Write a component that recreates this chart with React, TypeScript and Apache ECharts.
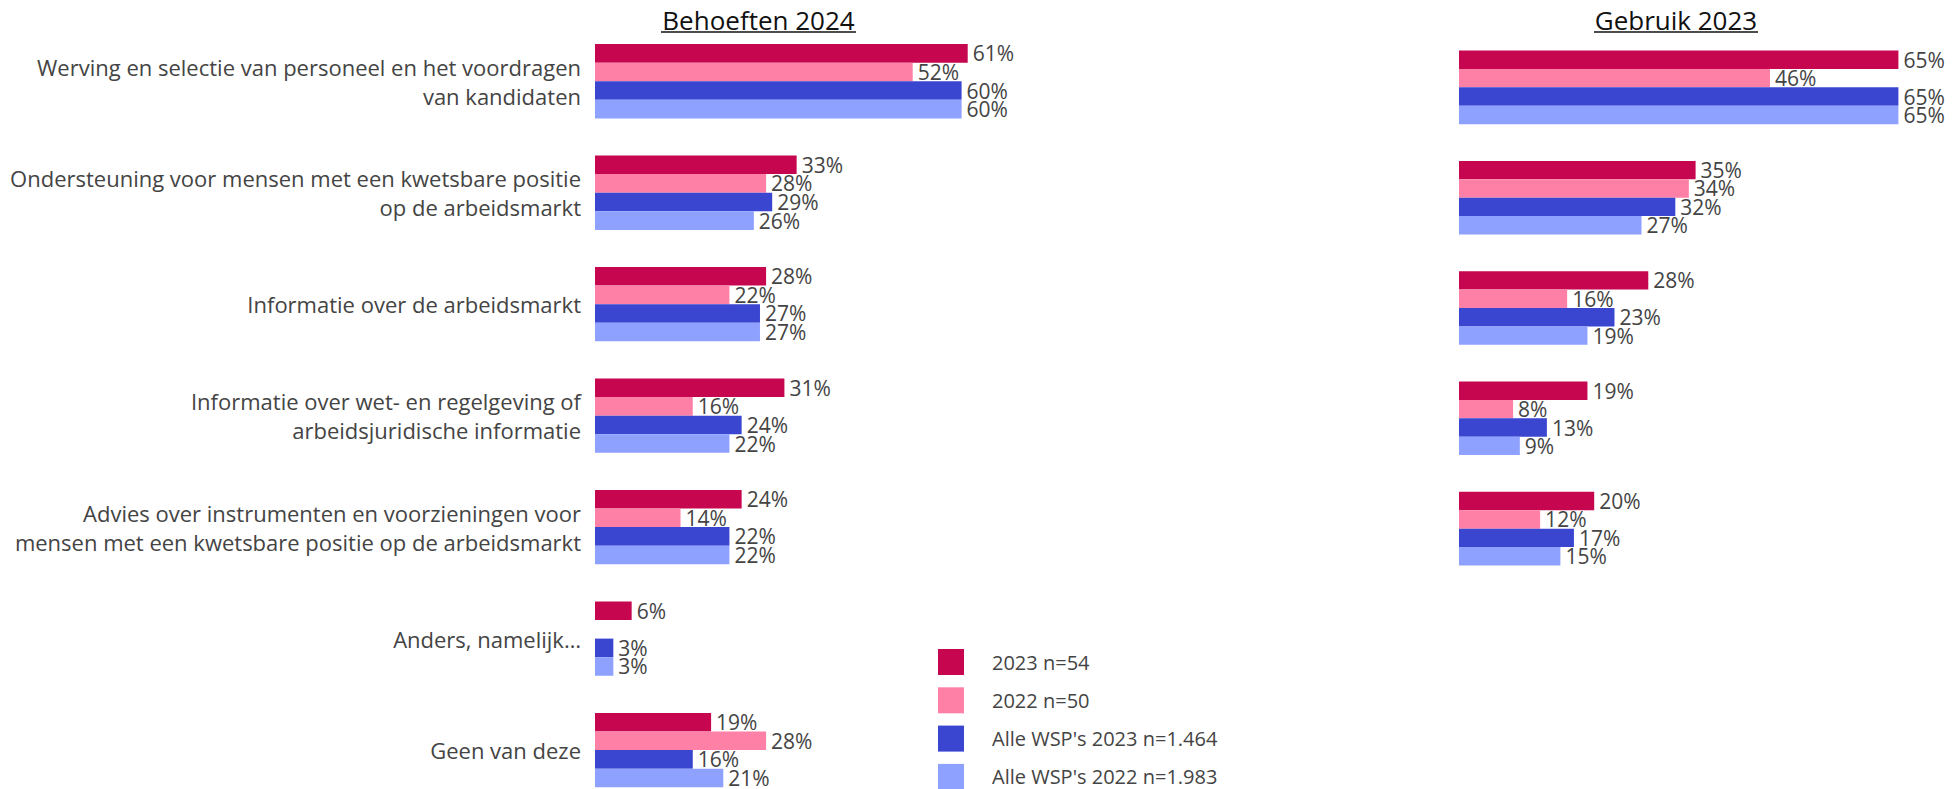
import React, { useEffect, useRef } from "react";
import * as echarts from "echarts";

const categoriesNeeds = [
  "Werving en selectie van personeel en het voordragen\nvan kandidaten",
  "Ondersteuning voor mensen met een kwetsbare positie\nop de arbeidsmarkt",
  "Informatie over de arbeidsmarkt",
  "Informatie over wet- en regelgeving of\narbeidsjuridische informatie",
  "Advies over instrumenten en voorzieningen voor\nmensen met een kwetsbare positie op de arbeidsmarkt",
  "Anders, namelijk…",
  "Geen van deze",
];
const categoriesUse = categoriesNeeds.slice(0, 5);

const seriesNames = ["2023 n=54", "2022 n=50", "Alle WSP's 2023 n=1.464", "Alle WSP's 2022 n=1.983"];
const seriesColors = ["#C6064E", "#FF80A6", "#3A45D0", "#8FA1FF"];

const needs2023 = [61, 33, 28, 31, 24, 6, 19];
const needs2022 = [52, 28, 22, 16, 14, 0, 28];
const needsAll2023 = [60, 29, 27, 24, 22, 3, 16];
const needsAll2022 = [60, 26, 27, 22, 22, 3, 21];

const use2023 = [65, 35, 28, 19, 20];
const use2022 = [46, 34, 16, 8, 12];
const useAll2023 = [65, 32, 23, 13, 17];
const useAll2022 = [65, 27, 19, 9, 15];

const titles = ["Behoeften 2024", "Gebruik 2023"];

const FONT = "'Open Sans', 'Noto Sans', sans-serif";

export default function App() {
  const ref = useRef<HTMLDivElement>(null);

  useEffect(() => {
    if (!ref.current) return;
    const chart = echarts.init(ref.current, null, { renderer: "svg" });

    const needsData = [needs2023, needs2022, needsAll2023, needsAll2022];
    const useData = [use2023, use2022, useAll2023, useAll2022];

    const mkSeries = (vals: number[], i: number, axisIdx: number) => ({
      type: "bar",
      name: seriesNames[i],
      xAxisIndex: axisIdx,
      yAxisIndex: axisIdx,
      data: vals.map((v) => (v === 0 ? { value: 0, label: { show: false } } : v)),
      barGap: "0%",
      barCategoryGap: "33.3%",
      itemStyle: { color: seriesColors[i] },
      label: {
        show: true,
        position: "right",
        distance: 5,
        formatter: "{c}%",
        fontSize: 21,
        fontFamily: FONT,
        color: "#444",
      },
    });

    const series: any[] = [];
    needsData.forEach((vals, i) => series.push(mkSeries(vals, i, 0)));
    useData.forEach((vals, i) => series.push(mkSeries(vals, i, 1)));

    const hiddenX = (max: number, gridIndex: number) => ({
      type: "value",
      gridIndex,
      min: 0,
      max,
      axisLine: { show: false },
      axisTick: { show: false },
      axisLabel: { show: false },
      splitLine: { show: false },
    });

    chart.setOption({
      animation: false,
      backgroundColor: "#ffffff",
      grid: [
        { left: 595, top: 25.5, width: 427.7, height: 780.3 },
        { left: 1459, top: 32.2, width: 473.2, height: 551.6 },
      ],
      xAxis: [hiddenX(70, 0), hiddenX(70, 1)],
      yAxis: [
        {
          type: "category",
          gridIndex: 0,
          data: categoriesNeeds,
          inverse: true,
          axisLine: { show: false },
          axisTick: { show: false },
          splitLine: { show: false },
          axisLabel: {
            margin: 14,
            fontSize: 22,
            lineHeight: 29,
            fontFamily: FONT,
            color: "#444",
            align: "right",
          },
        },
        {
          type: "category",
          gridIndex: 1,
          data: categoriesUse,
          inverse: true,
          axisLine: { show: false },
          axisTick: { show: false },
          splitLine: { show: false },
          axisLabel: { show: false },
        },
      ],
      legend: {
        orient: "vertical",
        left: 938,
        top: 649,
        padding: 0,
        itemWidth: 26,
        itemHeight: 26,
        itemGap: 12.3,
        icon: "rect",
        data: seriesNames,
        selectedMode: false,
        textStyle: {
          fontSize: 20,
          fontFamily: FONT,
          color: "#444",
          padding: [0, 0, 0, 23],
        },
      },
      graphic: [
        {
          type: "text",
          x: 758.5,
          y: 20,
          style: {
            text: titles[0],
            font: `26px ${FONT}`,
            fill: "#111",
            textAlign: "center",
            textVerticalAlign: "middle",
          },
        },
        {
          type: "line",
          shape: { x1: 661, y1: 32, x2: 856, y2: 32 },
          style: { stroke: "#111", lineWidth: 1.5 },
        },
        {
          type: "text",
          x: 1676,
          y: 20,
          style: {
            text: titles[1],
            font: `26px ${FONT}`,
            fill: "#111",
            textAlign: "center",
            textVerticalAlign: "middle",
          },
        },
        {
          type: "line",
          shape: { x1: 1594, y1: 32, x2: 1758, y2: 32 },
          style: { stroke: "#111", lineWidth: 1.5 },
        },
      ],
      series,
    });

    return () => chart.dispose();
  }, []);

  return (
    <div
      ref={ref}
      style={{ position: "fixed", left: 0, top: 0, width: 1956, height: 840, background: "#fff" }}
    />
  );
}
